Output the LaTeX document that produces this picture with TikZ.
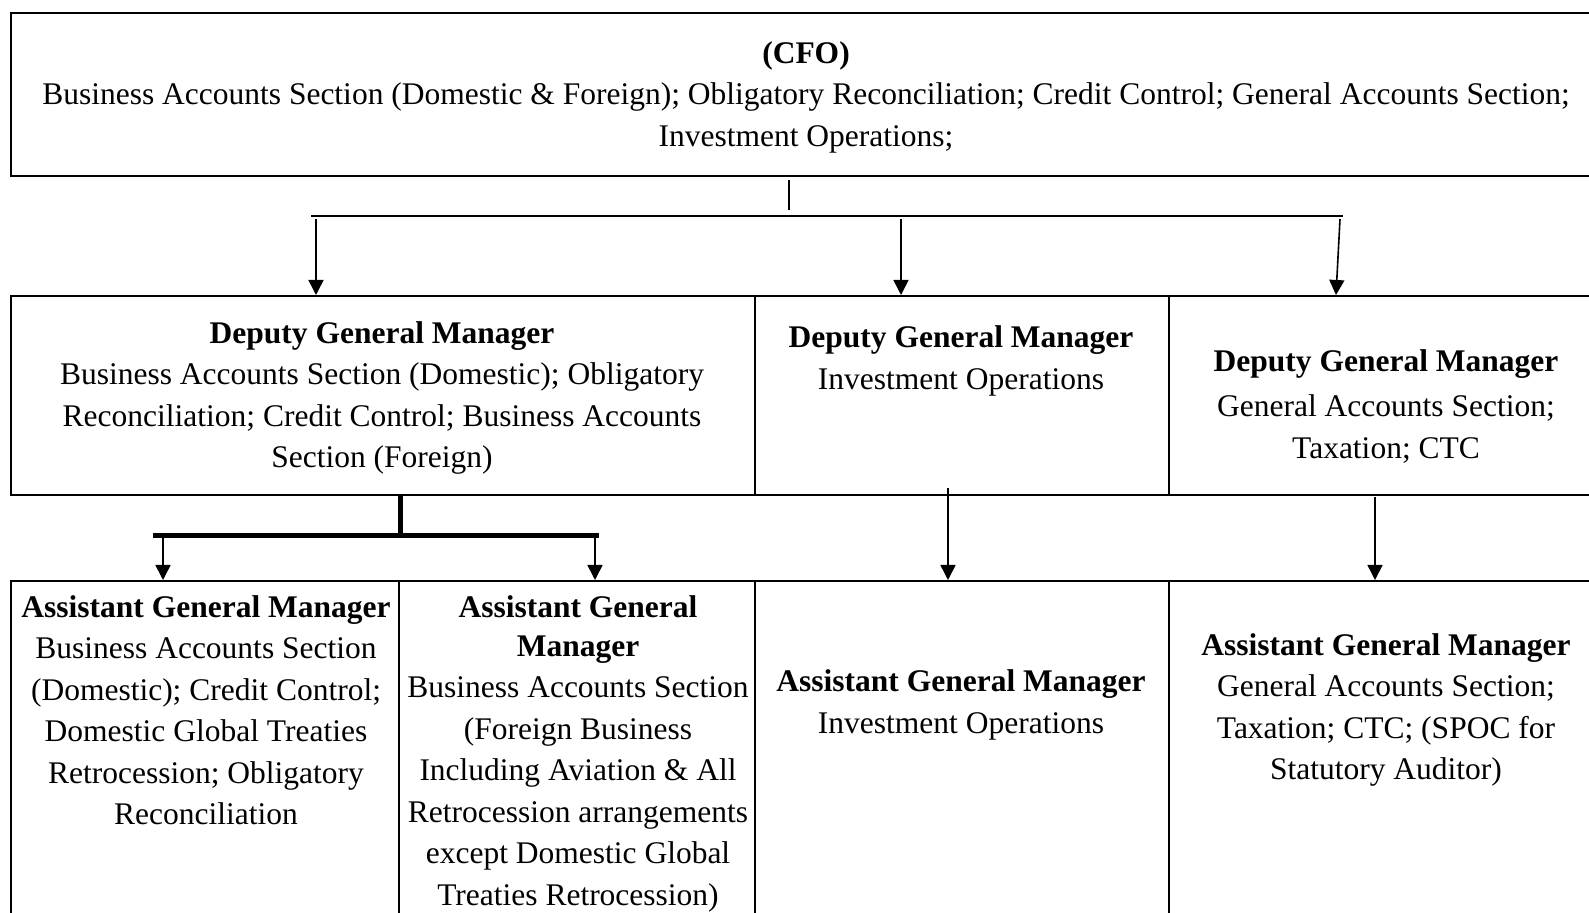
\documentclass[tikz,border=0pt]{standalone}
\usepackage{fontspec}
\setmainfont{Liberation Serif}
\usetikzlibrary{arrows.meta, positioning}

\begin{document}
\begin{tikzpicture}[x=1pt, y=-1pt,
    box/.style={draw, line width=1pt, inner sep=0pt, anchor=north west},
    txt/.style={align=center, inner sep=0pt, font=\fontsize{15.75}{20.75}\selectfont},
    link/.style={-{Triangle[length=7.5pt, width=7.5pt]}, line width=0.8pt},
    trunk/.style={line width=2.5pt}
]
\useasboundingbox (0,0) rectangle (794.5,456.5);

% Top box
\node[box, minimum width=792.5pt, minimum height=81.5pt] (cfo) at (5,6) {};
\node[txt] (cfo-text) at (403,48.5) {\textbf{(CFO)}\\
    Business Accounts Section (Domestic \& Foreign); Obligatory Reconciliation; Credit Control; General Accounts Section;\\
    Investment Operations;};

% Deputy row
\node[box, minimum width=372pt, minimum height=99.5pt] (dgm1) at (5,147.5) {};
\node[box, minimum width=207pt, minimum height=99.5pt] (dgm2) at (377,147.5) {};
\node[box, minimum width=213.5pt, minimum height=99.5pt] (dgm3) at (584,147.5) {};
\node[txt] (dgm1-text) at (191,199) {\textbf{Deputy General Manager}\\
    Business Accounts Section (Domestic); Obligatory\\
    Reconciliation; Credit Control; Business Accounts\\
    Section (Foreign)};
\node[txt] (dgm2-text) at (480.5,180.5) {\textbf{Deputy General Manager}\\
    Investment Operations};
\node[txt] (dgm3-text) at (693,203) {\textbf{Deputy General Manager}\\[2pt]
    General Accounts Section;\\
    Taxation; CTC};

% Assistant row
\node[box, minimum width=194pt, minimum height=180pt] (agm1) at (5,290) {};
\node[box, minimum width=178pt, minimum height=180pt] (agm2) at (199,290) {};
\node[box, minimum width=207pt, minimum height=180pt] (agm3) at (377,290) {};
\node[box, minimum width=213.5pt, minimum height=180pt] (agm4) at (584,290) {};
\node[txt] (agm1-text) at (103,355) {\textbf{Assistant General Manager}\\
    Business Accounts Section\\
    (Domestic); Credit Control;\\
    Domestic Global Treaties\\
    Retrocession; Obligatory\\
    Reconciliation};
\node[txt] (agm2-text) at (289,377) {\textbf{Assistant General}\\[-1.5pt]
    \textbf{Manager}\\
    Business Accounts Section\\
    (Foreign Business\\
    Including Aviation \& All\\
    Retrocession arrangements\\
    except Domestic Global\\
    Treaties Retrocession)};
\node[txt] (agm3-text) at (480.5,352.5) {\textbf{Assistant General Manager}\\
    Investment Operations};
\node[txt] (agm4-text) at (693,355) {\textbf{Assistant General Manager}\\
    General Accounts Section;\\
    Taxation; CTC; (SPOC for\\
    Statutory Auditor)};

% CFO to deputies
\coordinate (busL) at (155.5,108);
\coordinate (busM) at (394.5,108);
\coordinate (busR) at (671.5,108);
\draw[line width=0.75pt] (busM) ++(0,-3) -- ++(0,-15);
\draw[line width=0.75pt] (busL) -- (busR);
\draw[link] (158,0 |- busL) ++(0,1.5) -- (158,0 |- dgm1.north);
\draw[link] (450.5,0 |- busL) ++(0,1.5) -- (450.5,0 |- dgm2.north);
\draw[link] (670,0 |- busL) ++(0,1.5) -- (668,0 |- dgm3.north);

% Deputies to assistants
\coordinate (bar) at (200,268);
\draw[trunk] (200,0 |- dgm1.south) -- (bar);
\draw[trunk] (76.5,0 |- bar) -- (299.5,0 |- bar);
\draw[link] (81.5,0 |- bar) -- (81.5,0 |- agm1.north);
\draw[link] (297.5,0 |- bar) -- (297.5,0 |- agm2.north);
\draw[link] (474,244) -- (474,0 |- agm3.north);
\draw[link] (687.5,248.5) -- (687.5,0 |- agm4.north);
\end{tikzpicture}
\end{document}
